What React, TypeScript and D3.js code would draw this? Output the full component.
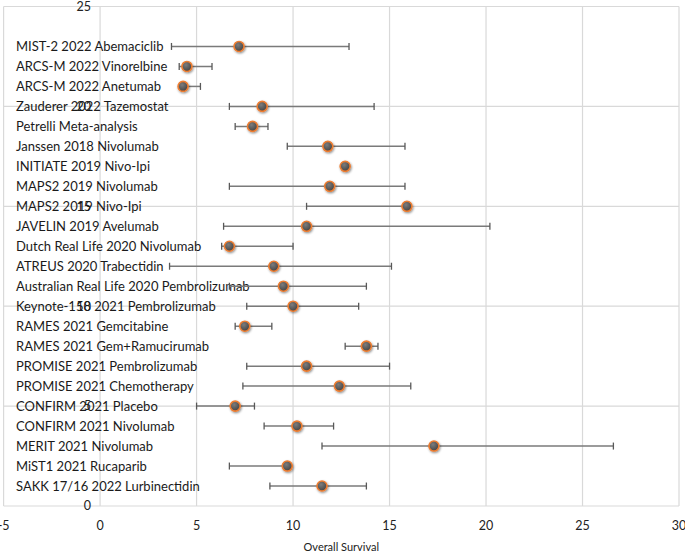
import React from "react";
import * as d3 from "d3";

const labels = [
  "MIST-2 2022 Abemaciclib",
  "ARCS-M 2022 Vinorelbine",
  "ARCS-M 2022 Anetumab",
  "Zauderer 2022 Tazemostat",
  "Petrelli Meta-analysis",
  "Janssen 2018 Nivolumab",
  "INITIATE 2019 Nivo-Ipi",
  "MAPS2 2019 Nivolumab",
  "MAPS2 2019 Nivo-Ipi",
  "JAVELIN 2019 Avelumab",
  "Dutch Real Life 2020 Nivolumab",
  "ATREUS 2020 Trabectidin",
  "Australian Real Life 2020 Pembrolizumab",
  "Keynote-158 2021 Pembrolizumab",
  "RAMES 2021 Gemcitabine",
  "RAMES 2021 Gem+Ramucirumab",
  "PROMISE 2021 Pembrolizumab",
  "PROMISE 2021 Chemotherapy",
  "CONFIRM 2021 Placebo",
  "CONFIRM 2021 Nivolumab",
  "MERIT 2021 Nivolumab",
  "MiST1 2021 Rucaparib",
  "SAKK 17/16 2022 Lurbinectidin",
];
const rowY = [23, 22, 21, 20, 19, 18, 17, 16, 15, 14, 13, 12, 11, 10, 9, 8, 7, 6, 5, 4, 3, 2, 1];
const median = [7.2, 4.5, 4.3, 8.4, 7.9, 11.8, 12.7, 11.9, 15.9, 10.7, 6.7, 9.0, 9.5, 10.0, 7.5, 13.8, 10.7, 12.4, 7.0, 10.2, 17.3, 9.7, 11.5];
const lower = [3.7, 4.1, 4.2, 6.7, 7.0, 9.7, 12.65, 6.7, 10.7, 6.4, 6.3, 3.6, 6.7, 7.6, 7.0, 12.7, 7.6, 7.4, 5.0, 8.5, 11.5, 6.7, 8.8];
const upper = [12.9, 5.8, 5.2, 14.2, 8.7, 15.8, 12.75, 15.8, 15.9, 20.2, 10.0, 15.1, 13.8, 13.4, 8.9, 14.4, 15.0, 16.1, 8.0, 12.1, 26.6, 9.7, 13.8];
const xTicks = [-5, 0, 5, 10, 15, 20, 25, 30];
const yTicks = [0, 5, 10, 15, 20, 25];
const xTitle = "Overall Survival";

export default function App() {
  const W = 685, H = 556;
  const x = d3.scaleLinear().domain([-5, 30]).range([3.6, 679]);
  const y = d3.scaleLinear().domain([0, 25]).range([506, 6.5]);
  const font = "Lato, 'Open Sans', sans-serif";
  const grid = "#d9d9d9";
  return (
    <div style={{ position: "absolute", left: 0, top: 0 }}>
      <svg width={W} height={H} style={{ display: "block", background: "#fff" }}>
        <defs>
          <filter id="sh" x="-50%" y="-50%" width="200%" height="200%">
            <feDropShadow dx="0.8" dy="1.2" stdDeviation="1.2" floodColor="#000" floodOpacity="0.45" />
          </filter>
          <radialGradient id="mg" cx="40%" cy="35%" r="70%">
            <stop offset="0%" stopColor="#7c7c7c" />
            <stop offset="100%" stopColor="#404040" />
          </radialGradient>
        </defs>
        {xTicks.map((t) => (
          <line key={"gx" + t} x1={x(t)} x2={x(t)} y1={y(25)} y2={y(0)} stroke={grid} strokeWidth={1.2} />
        ))}
        {yTicks.map((t) => (
          <line key={"gy" + t} x1={x(-5)} x2={x(30)} y1={y(t)} y2={y(t)} stroke={grid} strokeWidth={1.2} />
        ))}
        {yTicks.map((t) => (
          <text key={"ty" + t} x={x(0) - 9} y={y(t)} dy="0.35em" textAnchor="end" fontFamily={font} fontSize={12.5} fill="#222">
            {t}
          </text>
        ))}
        {xTicks.map((t) => (
          <text key={"tx" + t} x={x(t)} y={526} dy="0.35em" textAnchor="middle" fontFamily={font} fontSize={12.5} fill="#222">
            {t}
          </text>
        ))}
        <text x={(x(-5) + x(30)) / 2} y={547} dy="0.35em" textAnchor="middle" fontFamily={font} fontSize={11} fill="#222">
          {xTitle}
        </text>
        {labels.map((l, i) => (
          <text key={"l" + i} x={16} y={y(rowY[i])} dy="0.35em" fontFamily={font} fontSize={13} fill="#1a1a1a">
            {l}
          </text>
        ))}
        {labels.map((l, i) => {
          const yy = y(rowY[i]);
          return (
            <g key={"e" + i}>
              <line x1={x(lower[i])} x2={x(upper[i])} y1={yy} y2={yy} stroke="#7a7a7a" strokeWidth={1.5} />
              <line x1={x(lower[i])} x2={x(lower[i])} y1={yy - 3.5} y2={yy + 3.5} stroke="#595959" strokeWidth={1.3} />
              <line x1={x(upper[i])} x2={x(upper[i])} y1={yy - 3.5} y2={yy + 3.5} stroke="#595959" strokeWidth={1.3} />
            </g>
          );
        })}
        {labels.map((l, i) => (
          <circle key={"m" + i} cx={x(median[i])} cy={y(rowY[i])} r={5} fill="url(#mg)" stroke="#ED7D31" strokeWidth={1.6} filter="url(#sh)" />
        ))}
      </svg>
    </div>
  );
}
